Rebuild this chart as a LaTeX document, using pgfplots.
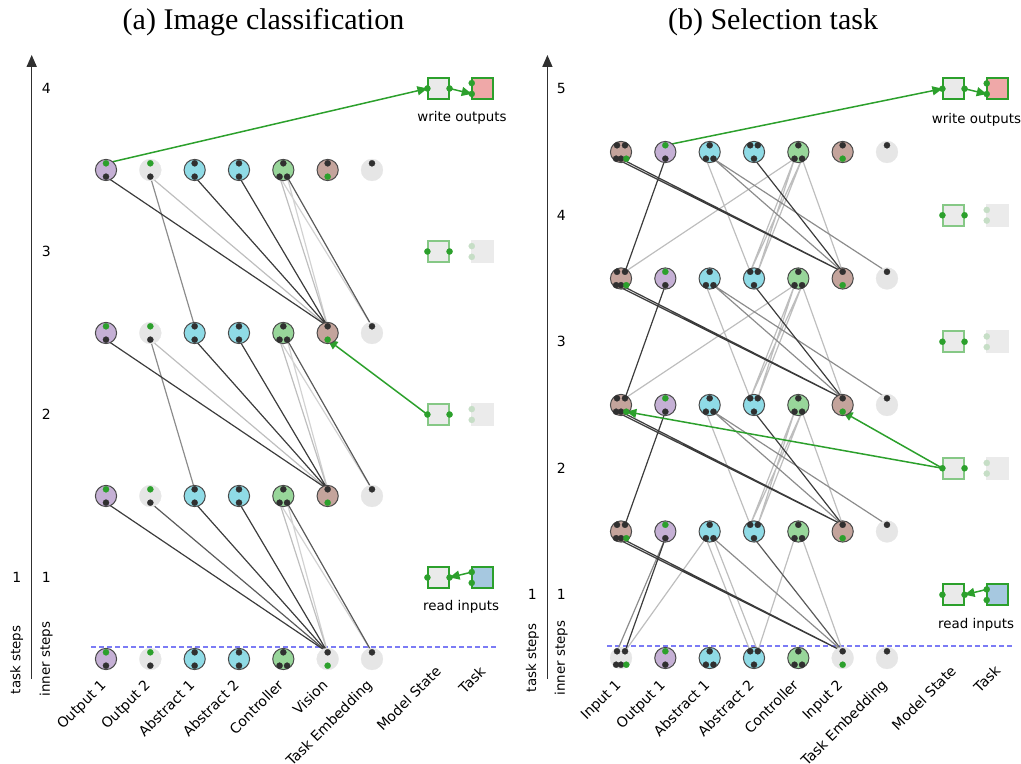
\documentclass[border=0pt]{standalone}
\usepackage{pgfplots}
\pgfplotsset{compat=1.18}
\usepackage{fontspec}
\setmainfont{DejaVu Sans}
\newfontfamily\titlefont{Liberation Serif}
\usetikzlibrary{arrows.meta}

\definecolor{cpur}{HTML}{C5B0D5}
\definecolor{ccya}{HTML}{8FDBE6}
\definecolor{cgrn}{HTML}{98D69A}
\definecolor{cbrn}{HTML}{C4A49C}
\definecolor{cgry}{HTML}{E6E6E6}
\definecolor{cout}{HTML}{4A4A4A}
\definecolor{cdot}{HTML}{303030}
\definecolor{gdot}{HTML}{2CA02C}
\definecolor{edark}{HTML}{3C3C3C}
\definecolor{emid}{HTML}{5A5A5A}
\definecolor{egry}{HTML}{8C8C8C}
\definecolor{elig}{HTML}{BEBEBE}
\definecolor{efnt}{HTML}{D2D2D2}
\definecolor{cbox}{HTML}{EAEAEA}
\definecolor{cfbox}{HTML}{EBEBEB}
\definecolor{cpink}{HTML}{EFA8A8}
\definecolor{cblue}{HTML}{A6C8E0}
\definecolor{gfade}{HTML}{86C886}
\definecolor{dfade}{HTML}{C6DEC6}
\definecolor{cdash}{HTML}{7B7BF5}

\newcommand{\lab}{\fontsize{6.7}{8}\selectfont}
\newcommand{\tlab}{\fontsize{7.0}{8.5}\selectfont}

\pgfplotsset{
  panel/.style={scale only axis, width=255pt, height=314pt, anchor=south west, clip=false,
    axis line style={draw=none}, major tick length=0pt, xtick=\empty, ytick=\empty},
  nd/.style={only marks, mark=*, mark size=5.3pt, mark options={fill=#1, draw=cout, line width=0.5pt}},
  gn/.style={only marks, mark=*, mark size=5.5pt, mark options={fill=cgry, draw=cgry, line width=0.1pt}},
  pd/.style={only marks, mark=*, mark size=1.55pt, mark options={fill=#1, draw=#1, line width=0.1pt}},
  ed/.style={no markers, draw=#1, line width=0.6pt, unbounded coords=jump},
  bx/.style 2 args={only marks, mark=square*, mark size=5.3pt, mark options={fill=#1, draw=#2, line width=1pt}},
  ga/.style={no markers, draw=gdot, line width=0.75pt, -{Triangle[length=5pt,width=4.5pt]}},
  ax/.style={no markers, draw=cdot, line width=0.75pt, -{Triangle[length=6pt,width=5pt]}},
  dl/.style={no markers, draw=cdash, line width=0.6pt, dash pattern=on 2.5pt off 1.5pt},
}
\tikzset{lbl/.style={rotate=45, anchor=north east, inner sep=0pt, font=\tlab}}

\begin{document}
\begin{tikzpicture}
\useasboundingbox (0,0) rectangle (510.5pt,382pt);

% ---------------- (a) Image classification ----------------
\begin{axis}[panel, at={(0pt,48pt)},
  xmin=-2.3912, xmax=9.1135, ymin=-0.0552, ymax=3.7975]

% step axis
\addplot[ax] coordinates {(-1.676,-0.123) (-1.676,3.706)};
\addplot[dl] coordinates {(-0.338,0.074) (8.843,0.074)};

% edges: faint, light, medium, dark
\addplot[ed=efnt] coordinates {
  (4.085,0.959) (5,0.041) (nan,nan) (4.085,1.959) (5,1.041) (nan,nan) (4.085,2.959) (5,2.041) (nan,nan)
  (3.915,0.959) (6,0.041) (nan,nan) (3.915,1.959) (6,1.041) (nan,nan) (3.915,2.959) (6,2.041)};
\addplot[ed=elig] coordinates {
  (3.915,0.959) (5,0.041) (nan,nan) (3.915,1.959) (5,1.041) (nan,nan) (3.915,2.959) (5,2.041) (nan,nan)
  (1,1.959) (5,1.041) (nan,nan) (1,2.959) (5,2.041)};
\addplot[ed=egry] coordinates {
  (1,1.959) (2,1.041) (nan,nan) (1,2.959) (2,2.041)};
\addplot[ed=emid] coordinates {
  (1,0.959) (5,0.041) (nan,nan)
  (4.085,0.959) (6,0.041) (nan,nan) (4.085,1.959) (6,1.041) (nan,nan) (4.085,2.959) (6,2.041)};
\addplot[ed=edark] coordinates {
  (0,0.959) (5,0.041) (nan,nan) (2,0.959) (5,0.041) (nan,nan) (3,0.959) (5,0.041) (nan,nan)
  (0,1.959) (5,1.041) (nan,nan) (2,1.959) (5,1.041) (nan,nan) (3,1.959) (5,1.041) (nan,nan)
  (0,2.959) (5,2.041) (nan,nan) (2,2.959) (5,2.041) (nan,nan) (3,2.959) (5,2.041)};

% modules
\addplot[gn] coordinates {(1,0) (1,1) (1,2) (1,3) (5,0) (6,0) (6,1) (6,2) (6,3)};
\addplot[nd=cpur] coordinates {(0,0) (0,1) (0,2) (0,3)};
\addplot[nd=ccya] coordinates {(2,0) (2,1) (2,2) (2,3) (3,0) (3,1) (3,2) (3,3)};
\addplot[nd=cgrn] coordinates {(4,0) (4,1) (4,2) (4,3)};
\addplot[nd=cbrn] coordinates {(5,1) (5,2) (5,3)};

% ports
\addplot[pd=cdot] coordinates {
  (0,-0.041) (1,-0.041) (2,0.041) (2,-0.041) (3,0.041) (3,-0.041) (4,0.041) (3.915,-0.041) (4.085,-0.041) (5,0.041) (6,0.041)
  (0,0.959) (1,0.959) (2,1.041) (2,0.959) (3,1.041) (3,0.959) (4,1.041) (3.915,0.959) (4.085,0.959) (5,1.041) (6,1.041)
  (0,1.959) (1,1.959) (2,2.041) (2,1.959) (3,2.041) (3,1.959) (4,2.041) (3.915,1.959) (4.085,1.959) (5,2.041) (6,2.041)
  (0,2.959) (1,2.959) (2,3.041) (2,2.959) (3,3.041) (3,2.959) (4,3.041) (3.915,2.959) (4.085,2.959) (5,3.041) (6,3.041)};
\addplot[pd=gdot] coordinates {
  (0,0.041) (1,0.041) (5,-0.041) (0,1.041) (1,1.041) (5,0.959)
  (0,2.041) (1,2.041) (5,1.959) (0,3.041) (1,3.041) (5,2.959)};

% model state and task
\addplot[bx={cbox}{gdot}] coordinates {(7.5,3.5) (7.5,0.5)};
\addplot[bx={cfbox}{gfade}] coordinates {(7.5,2.5) (7.5,1.5)};
\addplot[bx={cpink}{gdot}] coordinates {(8.5,3.5)};
\addplot[bx={cblue}{gdot}] coordinates {(8.5,0.5)};
\addplot[bx={cfbox}{cfbox}] coordinates {(8.5,2.5) (8.5,1.5)};
\addplot[pd=dfade] coordinates {(8.25,2.533) (8.25,2.467) (8.25,1.533) (8.25,1.467)};
\addplot[ga] coordinates {(0,3.041) (7.25,3.5)};
\addplot[ga] coordinates {(7.75,3.5) (8.25,3.467)};
\addplot[ga] coordinates {(7.25,1.5) (5,1.959)};
\addplot[ga] coordinates {(8.25,0.533) (7.75,0.5)};
\addplot[pd=gdot] coordinates {
  (7.25,3.5) (7.75,3.5) (7.25,2.5) (7.75,2.5) (7.25,1.5) (7.75,1.5) (7.25,0.5) (7.75,0.5)
  (8.25,3.533) (8.25,3.467) (8.25,0.533) (8.25,0.467)};

% text
\node[font=\tlab] at (-1.347,0.5) {1};
\node[font=\tlab] at (-1.347,1.5) {2};
\node[font=\tlab] at (-1.347,2.5) {3};
\node[font=\tlab] at (-1.347,3.5) {4};
\node[font=\tlab] at (-2.014,0.5) {1};
\node[font=\lab, rotate=90] at (-2.014,-0.006) {task steps};
\node[font=\lab, rotate=90] at (-1.347,0) {inner steps};
\node[font=\lab] at (8.03,3.319) {write outputs};
\node[font=\lab] at (8.01,0.319) {read inputs};
\node[font=\titlefont\fontsize{15}{18}\selectfont] at (3.553,3.908) {(a) Image classification};
\node[lbl] at (-0.15,-0.118) {Output 1};
\node[lbl] at (0.85,-0.118) {Output 2};
\node[lbl] at (1.85,-0.118) {Abstract 1};
\node[lbl] at (2.85,-0.118) {Abstract 2};
\node[lbl] at (3.85,-0.118) {Controller};
\node[lbl] at (4.85,-0.118) {Vision};
\node[lbl] at (5.85,-0.118) {Task Embedding};
\node[lbl] at (7.41,-0.035) {Model State};
\node[lbl] at (8.41,-0.035) {Task};
\end{axis}

% ---------------- (b) Selection task ----------------
\begin{axis}[panel, at={(255.5pt,48pt)},
  xmin=-2.4814, xmax=9.0232, ymin=-0.0791, ymax=4.8854]

\addplot[ax] coordinates {(-1.66,-0.166) (-1.66,4.767)};
\addplot[dl] coordinates {(-0.316,0.095) (8.843,0.095)};

% edges
\addplot[ed=elig] coordinates {
  (1.915,3.947) (2.915,3.053) (nan,nan) (1.915,2.947) (2.915,2.053) (nan,nan) (1.915,1.947) (2.915,1.053) (nan,nan)
  (3.915,3.947) (0.09,3.053) (nan,nan) (3.915,2.947) (0.09,2.053) (nan,nan)
  (3.915,3.947) (2.915,3.053) (nan,nan) (3.915,3.947) (3.085,3.053) (nan,nan)
  (4.085,3.947) (2.915,3.053) (nan,nan) (4.085,3.947) (3.085,3.053) (nan,nan) (4.085,3.947) (5,3.053) (nan,nan)
  (3.915,2.947) (2.915,2.053) (nan,nan) (3.915,2.947) (3.085,2.053) (nan,nan)
  (4.085,2.947) (2.915,2.053) (nan,nan) (4.085,2.947) (3.085,2.053) (nan,nan) (4.085,2.947) (5,2.053) (nan,nan)
  (3.915,1.947) (2.915,1.053) (nan,nan) (3.915,1.947) (3.085,1.053) (nan,nan)
  (4.085,1.947) (2.915,1.053) (nan,nan) (4.085,1.947) (3.085,1.053) (nan,nan) (4.085,1.947) (5,1.053) (nan,nan)
  (1.915,0.947) (0.09,0.053) (nan,nan) (1.915,0.947) (2.915,0.053) (nan,nan) (2.085,0.947) (3.085,0.053) (nan,nan)
  (3.915,0.947) (3.085,0.053) (nan,nan) (4.085,0.947) (5,0.053)};
\addplot[ed=egry] coordinates {
  (2.085,3.947) (5,3.053) (nan,nan) (2.085,3.947) (6,3.053) (nan,nan)
  (2.085,2.947) (5,2.053) (nan,nan) (2.085,2.947) (6,2.053) (nan,nan)
  (2.085,1.947) (5,1.053) (nan,nan) (2.085,1.947) (6,1.053) (nan,nan)
  (2.085,0.947) (5,0.053) (nan,nan) (1,0.947) (-0.09,0.053)};
\addplot[ed=emid] coordinates {(3,0.947) (5,0.053)};
\addplot[ed=edark] coordinates {
  (-0.11,3.947) (5,3.053) (nan,nan) (0,3.947) (5,3.053) (nan,nan)
  (-0.11,2.947) (5,2.053) (nan,nan) (0,2.947) (5,2.053) (nan,nan)
  (-0.11,1.947) (5,1.053) (nan,nan) (0,1.947) (5,1.053) (nan,nan)
  (-0.11,0.947) (5,0.053) (nan,nan) (0,0.947) (5,0.053) (nan,nan)
  (1,3.947) (0.09,3.053) (nan,nan) (1,2.947) (0.09,2.053) (nan,nan)
  (1,1.947) (0.09,1.053) (nan,nan) (1,0.947) (0.09,0.053) (nan,nan)
  (3,3.947) (5,3.053) (nan,nan) (3,2.947) (5,2.053) (nan,nan) (3,1.947) (5,1.053)};

% modules
\addplot[gn] coordinates {(0,0) (5,0) (6,0) (6,1) (6,2) (6,3) (6,4)};
\addplot[nd=cbrn] coordinates {(0,1) (0,2) (0,3) (0,4) (5,1) (5,2) (5,3) (5,4)};
\addplot[nd=cpur] coordinates {(1,0) (1,1) (1,2) (1,3) (1,4)};
\addplot[nd=ccya] coordinates {(2,0) (2,1) (2,2) (2,3) (2,4) (3,0) (3,1) (3,2) (3,3) (3,4)};
\addplot[nd=cgrn] coordinates {(4,0) (4,1) (4,2) (4,3) (4,4)};

% ports
\addplot[pd=cdot] coordinates {
  (-0.09,0.053) (0.09,0.053) (-0.11,-0.053) (0,-0.053) (1,-0.053) (2,0.053) (1.915,-0.053) (2.085,-0.053)
  (2.915,0.053) (3.085,0.053) (3,-0.053) (4,0.053) (3.915,-0.053) (4.085,-0.053) (5,0.053) (6,0.053)
  (-0.09,1.053) (0.09,1.053) (-0.11,0.947) (0,0.947) (1,0.947) (2,1.053) (1.915,0.947) (2.085,0.947)
  (2.915,1.053) (3.085,1.053) (3,0.947) (4,1.053) (3.915,0.947) (4.085,0.947) (5,1.053) (6,1.053)
  (-0.09,2.053) (0.09,2.053) (-0.11,1.947) (0,1.947) (1,1.947) (2,2.053) (1.915,1.947) (2.085,1.947)
  (2.915,2.053) (3.085,2.053) (3,1.947) (4,2.053) (3.915,1.947) (4.085,1.947) (5,2.053) (6,2.053)
  (-0.09,3.053) (0.09,3.053) (-0.11,2.947) (0,2.947) (1,2.947) (2,3.053) (1.915,2.947) (2.085,2.947)
  (2.915,3.053) (3.085,3.053) (3,2.947) (4,3.053) (3.915,2.947) (4.085,2.947) (5,3.053) (6,3.053)
  (-0.09,4.053) (0.09,4.053) (-0.11,3.947) (0,3.947) (1,3.947) (2,4.053) (1.915,3.947) (2.085,3.947)
  (2.915,4.053) (3.085,4.053) (3,3.947) (4,4.053) (3.915,3.947) (4.085,3.947) (5,4.053) (6,4.053)};
\addplot[pd=gdot] coordinates {
  (0.12,-0.053) (1,0.053) (5,-0.053) (0.12,0.947) (1,1.053) (5,0.947)
  (0.12,1.947) (1,2.053) (5,1.947) (0.12,2.947) (1,3.053) (5,2.947)
  (0.12,3.947) (1,4.053) (5,3.947)};

% model state and task
\addplot[bx={cbox}{gdot}] coordinates {(7.5,4.5) (7.5,0.5)};
\addplot[bx={cfbox}{gfade}] coordinates {(7.5,3.5) (7.5,2.5) (7.5,1.5)};
\addplot[bx={cpink}{gdot}] coordinates {(8.5,4.5)};
\addplot[bx={cblue}{gdot}] coordinates {(8.5,0.5)};
\addplot[bx={cfbox}{cfbox}] coordinates {(8.5,3.5) (8.5,2.5) (8.5,1.5)};
\addplot[pd=dfade] coordinates {(8.25,3.542) (8.25,3.458) (8.25,2.542) (8.25,2.458) (8.25,1.542) (8.25,1.458)};
\addplot[ga] coordinates {(1,4.053) (7.25,4.5)};
\addplot[ga] coordinates {(7.75,4.5) (8.25,4.458)};
\addplot[ga] coordinates {(7.25,1.5) (0.12,1.947)};
\addplot[ga] coordinates {(7.25,1.5) (5,1.947)};
\addplot[ga] coordinates {(8.25,0.542) (7.75,0.5)};
\addplot[pd=gdot] coordinates {
  (7.25,4.5) (7.75,4.5) (7.25,3.5) (7.75,3.5) (7.25,2.5) (7.75,2.5) (7.25,1.5) (7.75,1.5) (7.25,0.5) (7.75,0.5)
  (8.25,4.542) (8.25,4.458) (8.25,0.542) (8.25,0.458)};

% text
\node[font=\tlab] at (-1.349,0.5) {1};
\node[font=\tlab] at (-1.349,1.5) {2};
\node[font=\tlab] at (-1.349,2.5) {3};
\node[font=\tlab] at (-1.349,3.5) {4};
\node[font=\tlab] at (-1.349,4.5) {5};
\node[font=\tlab] at (-2.0,0.5) {1};
\node[font=\lab, rotate=90] at (-2.0,0) {task steps};
\node[font=\lab, rotate=90] at (-1.349,0) {inner steps};
\node[font=\lab] at (8.02,4.253) {write outputs};
\node[font=\lab] at (8.01,0.261) {read inputs};
\node[font=\titlefont\fontsize{15}{18}\selectfont] at (3.429,5.028) {(b) Selection task};
\node[lbl] at (-0.15,-0.158) {Input 1};
\node[lbl] at (0.85,-0.158) {Output 1};
\node[lbl] at (1.85,-0.158) {Abstract 1};
\node[lbl] at (2.85,-0.158) {Abstract 2};
\node[lbl] at (3.85,-0.158) {Controller};
\node[lbl] at (4.85,-0.158) {Input 2};
\node[lbl] at (5.85,-0.158) {Task Embedding};
\node[lbl] at (7.41,-0.047) {Model State};
\node[lbl] at (8.41,-0.047) {Task};
\end{axis}
\end{tikzpicture}
\end{document}
